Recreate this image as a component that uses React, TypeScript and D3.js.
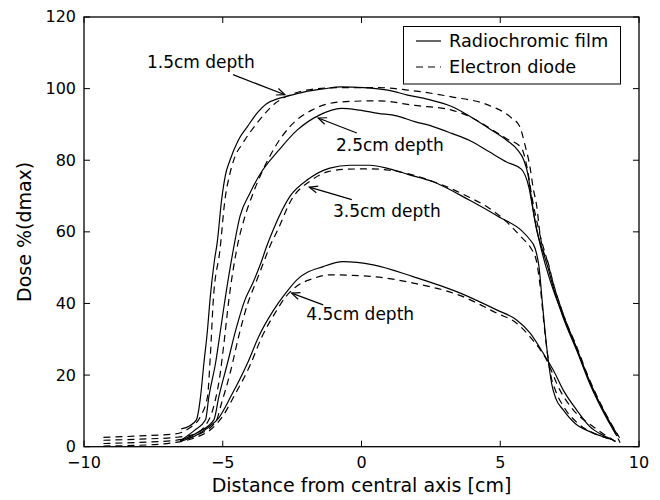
import React from "react";
import * as d3 from "d3";

type Pt = [number, number];

// Dose profiles [distance cm, dose %]
const film15: Pt[] = [[-6.5,5.0],[-6.2,5.8],[-5.95,7.5],[-5.8,14],[-5.68,23.3],[-5.55,32.6],[-5.46,41],[-5.3,52],[-5.2,57],[-5.04,69],[-4.9,76],[-4.74,80],[-4.44,85.6],[-4.1,89.5],[-3.78,93],[-3.42,95.8],[-3.0,97.2],[-2.72,97.8],[-2.05,99.1],[-1.39,99.9],[-0.73,100.5],[0.07,100.3],[1.0,99.5],[1.66,98.2],[2.4,97],[3.25,95],[3.9,92.3],[4.57,89],[5.23,85.6],[5.63,82.8],[5.85,80],[6.0,76],[6.15,68],[6.3,61],[6.5,55.5],[6.7,50.5],[6.95,43.5],[7.27,36],[7.75,27],[8.23,17.5],[8.83,8],[9.2,3]];
const diode15: Pt[] = [[-9.3,2.6],[-8.0,3.0],[-6.7,3.6],[-6.2,5.2],[-5.8,8.5],[-5.55,14],[-5.45,25],[-5.34,41],[-5.1,55],[-4.92,69],[-4.75,76],[-4.56,81],[-4.3,84.5],[-3.77,90.3],[-3.11,95.9],[-2.45,98.6],[-1.79,99.8],[-0.73,100.3],[0.6,100.3],[1.66,99.6],[3.25,97.7],[4.57,95.4],[5.36,92.1],[5.7,89.4],[5.9,84],[6.07,78.2],[6.18,72.5],[6.32,66.9],[6.43,59.6],[6.54,55],[6.7,52],[6.9,46],[7.27,37],[7.75,27.5],[8.23,18],[8.83,8.4],[9.2,3],[9.32,1.1]];
const film25: Pt[] = [[-6.53,1.7],[-6.03,4.5],[-5.62,7.5],[-5.5,14],[-5.26,23.3],[-5.08,32.6],[-4.92,41],[-4.62,55],[-4.38,64.3],[-4.02,70.8],[-3.64,76.3],[-2.98,82.8],[-2.32,88.4],[-1.52,92.6],[-0.73,94.5],[-0.07,94],[0.6,93.1],[1.26,92.4],[1.92,90.8],[2.58,89.4],[3.25,87.5],[3.9,85.5],[4.57,82.5],[5.23,79.5],[5.76,77.5],[6.03,72.5],[6.23,64],[6.42,57],[6.62,51],[6.9,44],[7.27,36.5],[7.75,27.5],[8.23,18],[8.83,8.5],[9.25,3]];
const diode25: Pt[] = [[-9.3,1.8],[-8.0,2.1],[-6.7,2.6],[-6.03,3.5],[-5.5,7.5],[-5.3,12],[-5.1,20],[-4.97,28],[-4.78,41],[-4.5,55],[-4.2,64.3],[-3.91,70.7],[-3.25,81.9],[-2.58,89.4],[-1.79,94],[-0.73,96.3],[0.6,96.6],[1.92,95.3],[3.25,94],[4.0,91.8],[4.57,89.2],[5.23,86],[5.76,83.5],[5.96,78.2],[6.16,69],[6.42,59.5],[6.69,52],[6.95,44.5],[7.27,37],[7.75,28],[8.23,18.5],[8.83,8.8],[9.3,2.5]];
const film35: Pt[] = [[-6.53,1.7],[-5.9,4],[-5.32,7.5],[-5.14,14],[-4.83,23.3],[-4.53,32.6],[-4.2,41],[-3.9,46],[-3.64,51],[-3.42,55.9],[-3.18,60.6],[-2.58,69.9],[-1.9,74.8],[-1.14,77.8],[-0.41,78.6],[0.3,78.6],[1.0,77.6],[1.7,76],[2.58,74],[3.9,68.8],[4.97,64.1],[5.76,60.4],[6.05,58],[6.25,55.5],[6.4,50],[6.52,40],[6.63,31],[6.73,24.2],[6.85,17.7],[7.0,13.5],[7.27,10.3],[7.7,6.5],[8.23,4.2],[8.7,2.8],[9.07,1.9]];
const diode35: Pt[] = [[-9.3,0.9],[-8.0,1.2],[-6.7,1.8],[-6.0,3.0],[-5.25,7],[-5.05,12],[-4.72,21],[-4.42,31],[-4.1,40],[-3.8,46],[-3.55,51],[-3.3,56],[-3.05,60],[-2.5,69.3],[-1.85,74.2],[-1.2,76.8],[-0.5,77.5],[0.3,77.6],[1.0,77.2],[1.7,76.2],[2.6,74],[3.9,69.6],[4.6,66.6],[5.2,63],[5.76,58.5],[6.1,55.5],[6.3,52],[6.45,44],[6.58,34],[6.7,26],[6.82,20],[7.0,15.5],[7.3,11],[7.8,6.5],[8.3,4],[8.8,2.5],[9.15,1.5]];
const film45: Pt[] = [[-6.53,1.5],[-6.0,3],[-5.5,5.5],[-5.15,8],[-4.71,14],[-4.11,23.3],[-3.69,31],[-3.18,38],[-2.72,43],[-2.33,46.6],[-1.38,50.3],[-0.66,51.7],[0.42,50.8],[1.86,47.5],[3.43,43.3],[4.87,38.2],[5.59,35.4],[6.07,31.8],[6.55,26.1],[6.91,21.4],[7.27,15.8],[7.75,10.3],[8.23,5.6],[8.7,3.2],[9.07,1.9]];
const diode45: Pt[] = [[-9.3,0.2],[-8.0,0.4],[-6.7,1.2],[-6.0,2.5],[-5.4,5],[-5.0,8.5],[-4.6,14],[-4.0,23],[-3.6,30.5],[-3.1,37.5],[-2.72,42],[-2.3,45],[-1.8,46.8],[-1.14,48],[0.42,47.5],[1.86,45.7],[3.66,41.9],[4.87,37.3],[5.59,34.5],[6.07,30.7],[6.67,24.2],[7.15,15.8],[7.63,10.3],[8.35,5.6],[9.06,1.9],[9.2,1.3]];

const filmSeries = [film15, film25, film35, film45];
const diodeSeries = [diode15, diode25, diode35, diode45];

const xTicks = [-10, -5, 0, 5, 10];
const yTicks = [0, 20, 40, 60, 80, 100, 120];

// annotation text anchor (data) and arrow tail / head (data)
const notes = [
  { label: "1.5cm depth", text: [-7.73, 105.8], tail: [-4.63, 103.9], head: [-2.76, 98.3] },
  { label: "2.5cm depth", text: [-0.92, 82.6], tail: [-0.17, 87.6], head: [-1.56, 91.8] },
  { label: "3.5cm depth", text: [-1.03, 64.2], tail: [-0.35, 69.0], head: [-1.88, 72.5] },
  { label: "4.5cm depth", text: [-1.99, 35.4], tail: [-1.38, 39.6], head: [-2.52, 42.9] },
];

const legendItems = [
  { label: "Radiochromic film", dash: "none" },
  { label: "Electron diode", dash: "7,5" },
];

const W = 660;
const H = 500;
const left = 84, right = 639, top = 17, bottom = 446.7;
const font = "DejaVu Sans, sans-serif";

export default function App() {
  const x = d3.scaleLinear().domain([-10, 10]).range([left, right]);
  const y = d3.scaleLinear().domain([0, 120]).range([bottom, top]);
  const line = d3.line<Pt>().x(d => x(d[0])).y(d => y(d[1])).curve(d3.curveMonotoneX);
  const fmt = (v: number) => (v < 0 ? "\u2212" + Math.abs(v) : String(v));
  const tick = 6;

  const arrowHead = (t: number[], h: number[]) => {
    const x1 = x(t[0]), y1 = y(t[1]), x2 = x(h[0]), y2 = y(h[1]);
    const a = Math.atan2(y2 - y1, x2 - x1);
    const len = 9, spread = 0.4;
    const p1 = [x2 - len * Math.cos(a - spread), y2 - len * Math.sin(a - spread)];
    const p2 = [x2 - len * Math.cos(a + spread), y2 - len * Math.sin(a + spread)];
    return `M${p1[0]},${p1[1]}L${x2},${y2}L${p2[0]},${p2[1]}`;
  };

  return (
    <svg width={W} height={H} style={{ position: "absolute", left: 0, top: 0, background: "#fff" }}
      fontFamily={font}>
      <defs>
        <clipPath id="plot">
          <rect x={left} y={top} width={right - left} height={bottom - top} />
        </clipPath>
      </defs>
      <rect x={0} y={0} width={W} height={H} fill="#fff" />

      <g clipPath="url(#plot)" fill="none" stroke="#000" strokeWidth={1.2}>
        {filmSeries.map((s, i) => <path key={"f" + i} d={line(s) || ""} />)}
        {diodeSeries.map((s, i) => <path key={"d" + i} d={line(s) || ""} strokeDasharray="7,5" />)}
      </g>

      {/* frame */}
      <rect x={left} y={top} width={right - left} height={bottom - top} fill="none" stroke="#000" strokeWidth={1.3} />

      {/* ticks */}
      <g stroke="#000" strokeWidth={1}>
        {xTicks.map(t => (
          <g key={"xt" + t}>
            <line x1={x(t)} x2={x(t)} y1={bottom} y2={bottom - tick} />
            <line x1={x(t)} x2={x(t)} y1={top} y2={top + tick} />
          </g>
        ))}
        {yTicks.map(t => (
          <g key={"yt" + t}>
            <line x1={left} x2={left + tick} y1={y(t)} y2={y(t)} />
            <line x1={right} x2={right - tick} y1={y(t)} y2={y(t)} />
          </g>
        ))}
      </g>
      <g fontSize={16} fill="#000">
        {xTicks.map(t => (
          <text key={"xl" + t} x={x(t)} y={468} textAnchor="middle">{fmt(t)}</text>
        ))}
        {yTicks.map(t => (
          <text key={"yl" + t} x={76} y={y(t)} dy="0.34em" textAnchor="end">{fmt(t)}</text>
        ))}
      </g>

      <text x={(left + right) / 2} y={492} fontSize={19} textAnchor="middle">Distance from central axis [cm]</text>
      <text transform={`translate(31,${(top + bottom) / 2}) rotate(-90)`} fontSize={19} textAnchor="middle">Dose %(dmax)</text>

      {/* annotations */}
      {notes.map(n => (
        <g key={n.label}>
          <text x={x(n.text[0])} y={y(n.text[1])} fontSize={17}>{n.label}</text>
          <line x1={x(n.tail[0])} y1={y(n.tail[1])} x2={x(n.head[0])} y2={y(n.head[1])} stroke="#000" strokeWidth={1.2} />
          <path d={arrowHead(n.tail, n.head)} fill="none" stroke="#000" strokeWidth={1.2} />
        </g>
      ))}

      {/* legend */}
      <g>
        <rect x={403.5} y={26.5} width={217} height={57.5} fill="#fff" stroke="#000" strokeWidth={1} />
        {legendItems.map((it, i) => (
          <g key={it.label} transform={`translate(0,${41 + i * 26})`}>
            <line x1={416} x2={441} y1={0} y2={0} stroke="#000" strokeWidth={1.2} strokeDasharray={it.dash} />
            <text x={449} y={6} fontSize={17.7}>{it.label}</text>
          </g>
        ))}
      </g>
    </svg>
  );
}
